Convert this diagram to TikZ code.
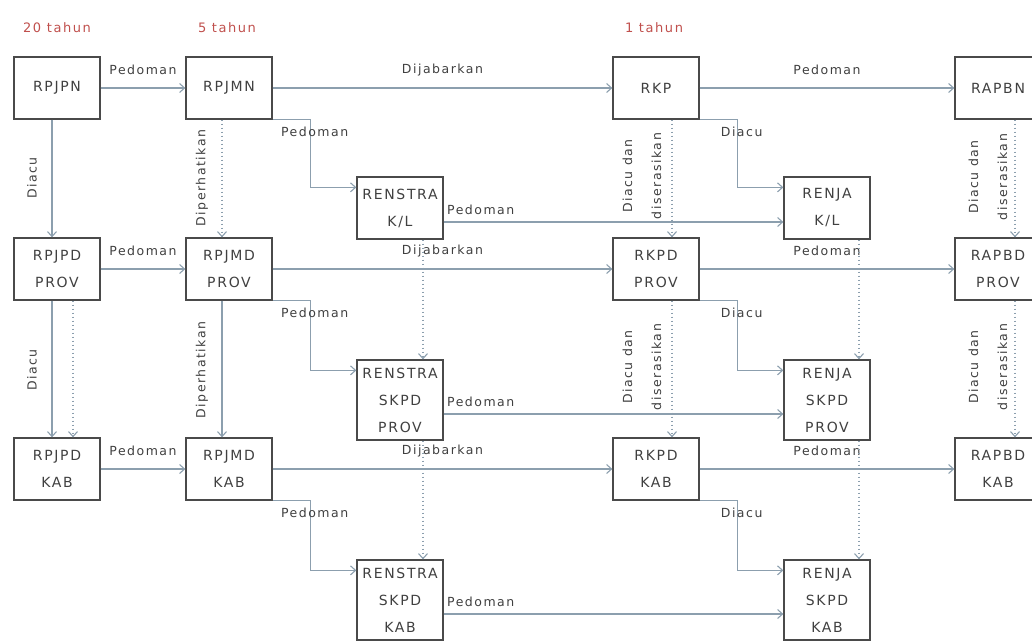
\documentclass[tikz,border=0pt]{standalone}
\usepackage{fontspec}
\setmainfont[LetterSpace=12]{DejaVu Sans}
\usetikzlibrary{arrows.meta,positioning}

\definecolor{boxline}{HTML}{4A4A4A}
\definecolor{linkline}{HTML}{8C9FAE}
\definecolor{labeltext}{HTML}{404040}
\definecolor{yearred}{HTML}{C0504D}

\tikzset{
  plan/.style={draw=boxline, line width=1.3pt, minimum width=86pt, minimum height=62pt,
    inner sep=0pt, align=center, text=labeltext, font=\fontsize{14}{27}\selectfont},
  plantall/.style={plan, minimum height=80pt},
  link/.style={draw=linkline, line width=1.1pt, -{Straight Barb[length=5pt,width=9pt]}},
  dotlink/.style={link, dash pattern=on 1.5pt off 2.5pt},
  lbl/.style={text=labeltext, inner sep=1pt, font=\fontsize{12.5}{14}\selectfont},
  vlbl/.style={lbl, rotate=90, align=center, font=\fontsize{12.5}{29}\selectfont},
  year/.style={text=yearred, font=\fontsize{13}{15}\selectfont}
}

\begin{document}
\begin{tikzpicture}[x=1pt, y=-1pt]
    \useasboundingbox (0,0) rectangle (1032,640);

    % Periods
    \node[year] (y20) at (57,28) {20 tahun};
    \node[year] (y5) at (227,28) {5 tahun};
    \node[year] (y1) at (654,28) {1 tahun};

    % Nasional
    \node[plan] (rpjpn) at (57,88) {RPJPN};
    \node[plan] (rpjmn) at (229,88) {RPJMN};
    \node[plan] (rkp) at (656,88) {RKP};
    \node[plan] (rapbn) at (998,88) {RAPBN};
    \node[plan] (renstrakl) at (400,208) {RENSTRA\\K/L};
    \node[plan] (renjakl) at (827,208) {RENJA\\K/L};

    % Provinsi
    \node[plan] (rpjpdprov) at (57,269) {RPJPD\\PROV};
    \node[plan] (rpjmdprov) at (229,269) {RPJMD\\PROV};
    \node[plan] (rkpdprov) at (656,269) {RKPD\\PROV};
    \node[plan] (rapbdprov) at (998,269) {RAPBD\\PROV};
    \node[plantall] (renstraprov) at (400,400) {RENSTRA\\SKPD\\PROV};
    \node[plantall] (renjaprov) at (827,400) {RENJA\\SKPD\\PROV};

    % Kabupaten
    \node[plan] (rpjpdkab) at (57,469) {RPJPD\\KAB};
    \node[plan] (rpjmdkab) at (229,469) {RPJMD\\KAB};
    \node[plan] (rkpdkab) at (656,469) {RKPD\\KAB};
    \node[plan] (rapbdkab) at (998,469) {RAPBD\\KAB};
    \node[plantall] (renstrakab) at (400,600) {RENSTRA\\SKPD\\KAB};
    \node[plantall] (renjakab) at (827,600) {RENJA\\SKPD\\KAB};

    % Links within each level
    \foreach \pj/\pm/\rk/\ra/\rs/\rj/\row in {rpjpn/rpjmn/rkp/rapbn/renstrakl/renjakl/1,
        rpjpdprov/rpjmdprov/rkpdprov/rapbdprov/renstraprov/renjaprov/2,
        rpjpdkab/rpjmdkab/rkpdkab/rapbdkab/renstrakab/renjakab/3} {
        \draw[link] (\pj) -- node[lbl, yshift=18pt] (ped\row) {Pedoman} (\pm);
        \draw[link] (\pm) -- node[lbl, yshift=18pt] (jab\row) {Dijabarkan} (\rk);
        \draw[link] (\rk) -- node[lbl, yshift=18pt] (ang\row) {Pedoman} (\ra);
        \draw[link] (\pm.south east) -- ++(38,0)
            node[lbl, pos=1, xshift=4pt, yshift=-12pt] (str\row) {Pedoman}
            |- ([yshift=-11pt]\rs.north west);
        \draw[link] (\rk.south east) -- ++(38,0)
            node[lbl, pos=1, xshift=4pt, yshift=-12pt] (acu\row) {Diacu}
            |- ([yshift=-11pt]\rj.north west);
        \draw[link] ([yshift=-14pt]\rs.east) --
            node[lbl, pos=0, anchor=west, xshift=2pt, yshift=12pt] (rja\row) {Pedoman}
            ([yshift=-14pt]\rj.west);
    }

    % Links between levels
    \foreach \a/\b/\s/\k in {rpjpn/rpjpdprov/-5/link, rpjmn/rpjmdprov/-7/dotlink,
        rkp/rkpdprov/16/dotlink, rapbn/rapbdprov/17/dotlink,
        renstrakl/renstraprov/23/dotlink, renjakl/renjaprov/32/dotlink,
        rpjpdprov/rpjpdkab/-5/link, rpjpdprov/rpjpdkab/16/dotlink,
        rpjmdprov/rpjmdkab/-7/link, rkpdprov/rkpdkab/16/dotlink,
        rapbdprov/rapbdkab/17/dotlink, renstraprov/renstrakab/23/dotlink,
        renjaprov/renjakab/32/dotlink} {
        \draw[\k] ([xshift=\s pt]\a.south) -- ([xshift=\s pt]\b.north);
    }

    % Vertical labels
    \node[vlbl] (diacu1) at (32,178) {Diacu};
    \node[vlbl] (diacu2) at (32,370) {Diacu};
    \node[vlbl] (dip1) at (202,178) {Diperhatikan};
    \node[vlbl] (dip2) at (202,370) {Diperhatikan};
    \node[vlbl] (ser1) at (642,176) {Diacu dan\\diserasikan};
    \node[vlbl] (ser2) at (642,367) {Diacu dan\\diserasikan};
    \node[vlbl] (ser3) at (988,177) {Diacu dan\\diserasikan};
    \node[vlbl] (ser4) at (988,367) {Diacu dan\\diserasikan};
\end{tikzpicture}
\end{document}
